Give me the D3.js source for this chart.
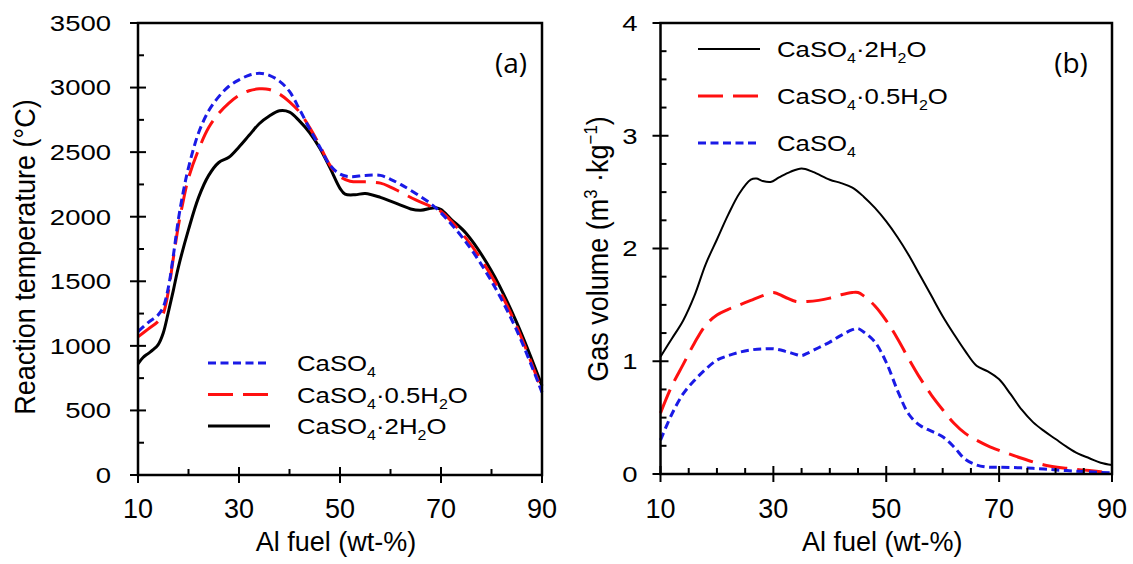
<!DOCTYPE html>
<html>
<head>
<meta charset="utf-8">
<script src="https://cdn.jsdelivr.net/npm/d3@7"></script>
<style>body{margin:0;background:#fff}</style>
</head>
<body>
<svg id="chart" width="1133" height="564"></svg>
<script>
// ---- panel (a): reaction temperature (°C) vs Al fuel (wt-%)
const tempFuelBlue = [10,12,14,15,16,17,18,19,20,22,24,26,28,30,32,34,36,38,40,42,44,46,48,50,52,55,58,60,62,65,68,70,75,80,85,90];
const tempBlue = [1110,1180,1240,1300,1450,1700,1980,2200,2380,2650,2820,2930,3010,3060,3095,3110,3095,3050,2970,2830,2680,2540,2400,2330,2310,2320,2320,2290,2250,2180,2100,2030,1800,1500,1120,640];

const tempFuelRed = [10,12,14,15,16,17,18,19,20,22,24,26,28,30,32,34,36,38,40,42,44,46,48,50,52,55,58,60,62,65,68,70,75,80,85,90];
const tempRed = [1070,1130,1190,1250,1420,1680,1930,2130,2300,2520,2690,2800,2880,2940,2975,2990,2985,2950,2890,2810,2690,2550,2400,2310,2275,2270,2260,2230,2190,2130,2080,2040,1830,1540,1150,650];

const tempFuelBlack = [10,11,12,13,14,15,16,17,18,20,22,24,26,28,30,32,34,36,38,40,42,44,46,48,50,51,53,55,58,60,62,64,66,68,69,70,72,75,80,85,90];
const tempBlack = [860,910,940,970,1010,1100,1260,1430,1610,1900,2150,2320,2420,2460,2540,2630,2720,2780,2820,2810,2740,2650,2530,2380,2220,2175,2170,2180,2150,2120,2090,2060,2050,2065,2070,2055,1980,1870,1580,1180,690];

// ---- panel (b): gas volume (m3/kg) vs Al fuel (wt-%)
const gasFuelBlack = [10,12,14,16,18,20,22,24,26,27,28,29.5,31,33,35,37,40,42,44,46,48,50,52,54,56,58,60,62,64,66,68,70,72,74,76,78,80,82,84,86,88,90];
const gasBlack = [1.04,1.20,1.36,1.58,1.86,2.08,2.30,2.49,2.61,2.62,2.60,2.59,2.63,2.68,2.71,2.68,2.61,2.58,2.54,2.46,2.36,2.24,2.10,1.94,1.76,1.58,1.40,1.24,1.09,0.96,0.91,0.84,0.71,0.57,0.46,0.38,0.31,0.24,0.18,0.14,0.10,0.08];

const gasFuelRed = [10,12,14,16,18,20,22,24,26,28,30,32,34,36,38,40,42,44,45,46,48,50,52,54,56,58,60,62,64,66,68,70,74,78,82,86,90];
const gasRed = [0.54,0.78,0.97,1.16,1.32,1.41,1.46,1.50,1.54,1.58,1.61,1.57,1.53,1.53,1.54,1.56,1.59,1.61,1.61,1.58,1.49,1.36,1.20,1.02,0.85,0.70,0.57,0.45,0.36,0.30,0.25,0.21,0.14,0.08,0.05,0.03,0.01];

const gasFuelBlue = [10,12,14,16,18,20,22,24,26,28,30,32,34,35,36,38,40,42,44,45,46,48,50,52,54,56,58,60,62,64,66,68,70,76,82,90];
const gasBlue = [0.30,0.53,0.71,0.83,0.93,1.01,1.05,1.08,1.10,1.11,1.11,1.09,1.06,1.05,1.07,1.12,1.17,1.23,1.28,1.29,1.26,1.17,0.99,0.74,0.53,0.43,0.38,0.33,0.24,0.13,0.08,0.06,0.06,0.05,0.03,0.01];

const fuelTicks = [10, 30, 50, 70, 90];
const tempTicks = [0, 500, 1000, 1500, 2000, 2500, 3000, 3500];
const gasTicks = [0, 1, 2, 3, 4];

const FONT = '"Liberation Sans", Arial, Helvetica, sans-serif';
const styles = {
  blue: {stroke: '#1a1ae6', dash: '8,4.5', width: 3},
  red: {stroke: '#ff1010', dash: '25,10', width: 3},
  black: {stroke: '#000', dash: null, width: 3}
};

const svg = d3.select('#chart');

// chemical formula pieces: [text, 'sub'|'sup'|undefined]
const labelCaSO4 = [['CaSO'], ['4', 'sub']];
const labelHemi = [['CaSO'], ['4', 'sub'], ['\u00b70.5H'], ['2', 'sub'], ['O']];
const labelDihy = [['CaSO'], ['4', 'sub'], ['\u00b72H'], ['2', 'sub'], ['O']];

function richText(text, parts, size) {
  let shift = 0;
  parts.forEach(([t, kind]) => {
    const target = kind === 'sub' ? size * 0.28 : kind === 'sup' ? -size * 0.38 : 0;
    text.append('tspan')
      .attr('dy', target - shift)
      .attr('font-size', kind ? size * 0.62 : size)
      .text(t);
    shift = target;
  });
}

function panel(cfg) {
  const x = d3.scaleLinear().domain([10, 90]).range([cfg.left, cfg.right]);
  const y = d3.scaleLinear().domain(cfg.yDomain).range([cfg.bottom, cfg.top]);
  const g = svg.append('g');

  // curves
  const line = d3.line()
    .x(d => x(d[0]))
    .y(d => y(d[1]))
    .curve(d3.curveCatmullRom.alpha(0.5));

  cfg.series.forEach(s => {
    const st = styles[s.style];
    g.append('path')
      .datum(d3.zip(s.xs, s.ys))
      .attr('fill', 'none')
      .attr('stroke', st.stroke)
      .attr('stroke-width', s.width || st.width)
      .attr('stroke-dasharray', st.dash)
      .attr('stroke-linejoin', 'round')
      .attr('d', line);
  });

  // frame
  g.append('rect')
    .attr('x', cfg.left).attr('y', cfg.top)
    .attr('width', cfg.right - cfg.left).attr('height', cfg.bottom - cfg.top)
    .attr('fill', 'none').attr('stroke', '#000').attr('stroke-width', 2.5);

  // ticks
  const tk = g.append('g').attr('stroke', '#000').attr('stroke-width', 2);
  cfg.yMajor.forEach(v => tk.append('line')
    .attr('x1', cfg.left - 8).attr('x2', cfg.left + 8).attr('y1', y(v)).attr('y2', y(v)));
  cfg.yMinor.forEach(v => tk.append('line')
    .attr('x1', cfg.left).attr('x2', cfg.left + 6).attr('y1', y(v)).attr('y2', y(v)));
  fuelTicks.forEach(v => tk.append('line')
    .attr('x1', x(v)).attr('x2', x(v)).attr('y1', cfg.bottom - 8).attr('y2', cfg.bottom + 8));
  cfg.xMinor.forEach(v => tk.append('line')
    .attr('x1', x(v)).attr('x2', x(v)).attr('y1', cfg.bottom).attr('y2', cfg.bottom - 6));

  // tick labels
  cfg.yMajor.forEach(v => {
    g.append('g')
      .attr('transform', `translate(${cfg.left - cfg.yLabelGap},${y(v)}) scale(1.25,1)`)
      .append('text')
      .attr('font-family', FONT).attr('font-size', 22)
      .attr('text-anchor', 'end').attr('dy', '0.36em')
      .text(v);
  });
  fuelTicks.forEach(v => {
    g.append('text')
      .attr('x', x(v)).attr('y', 518)
      .attr('font-family', FONT).attr('font-size', 27)
      .attr('text-anchor', 'middle')
      .text(v);
  });

  // axis titles
  g.append('text')
    .attr('x', (cfg.left + cfg.right) / 2 - 4).attr('y', 551)
    .attr('font-family', FONT).attr('font-size', 27)
    .attr('text-anchor', 'middle')
    .text('Al fuel (wt-%)');

  const yt = g.append('g')
    .attr('transform', `translate(${cfg.yTitleX},${cfg.yTitleY}) scale(1.12,1) rotate(-90)`)
    .append('text')
    .attr('font-family', FONT).attr('font-size', 27)
    .attr('text-anchor', 'middle');
  richText(yt, cfg.yTitle, 27);

  // panel tag
  g.append('text')
    .attr('x', cfg.tagX).attr('y', 73)
    .attr('font-family', '"Open Sans", "Noto Sans", sans-serif').attr('font-size', 28)
    .attr('text-anchor', 'middle')
    .text(cfg.tag);

  // legend
  cfg.legend.forEach((s, i) => {
    const st = styles[s.style];
    const ly = cfg.legendY + i * cfg.legendStep;
    g.append('line')
      .attr('x1', cfg.legendX).attr('x2', cfg.legendX + 62)
      .attr('y1', ly).attr('y2', ly)
      .attr('stroke', st.stroke).attr('stroke-width', s.width || st.width)
      .attr('stroke-dasharray', st.dash);
    const t = g.append('g')
      .attr('transform', `translate(${cfg.legendX + cfg.legendTextGap},${ly + 8}) scale(1.12,1)`)
      .append('text')
      .attr('font-family', FONT).attr('font-size', 23);
    richText(t, s.label, 23);
  });
}

panel({
  left: 138, right: 542, top: 23, bottom: 475,
  yDomain: [0, 3500],
  yMajor: tempTicks,
  yMinor: d3.range(250, 3500, 500),
  xMinor: [20, 40, 60, 80],
  yLabelGap: 27,
  series: [
    {xs: tempFuelBlack, ys: tempBlack, style: 'black'},
    {xs: tempFuelRed, ys: tempRed, style: 'red'},
    {xs: tempFuelBlue, ys: tempBlue, style: 'blue'}
  ],
  yTitle: [['Reaction temperature (\u00b0C)']],
  yTitleX: 35, yTitleY: 257,
  tag: '(a)', tagX: 511,
  legendX: 208, legendY: 363, legendStep: 31.5, legendTextGap: 89,
  legend: [
    {style: 'blue', label: labelCaSO4},
    {style: 'red', label: labelHemi},
    {style: 'black', label: labelDihy}
  ]
});

panel({
  left: 660.5, right: 1112, top: 23, bottom: 474,
  yDomain: [0, 4],
  yMajor: gasTicks,
  yMinor: d3.range(0.25, 4, 0.25).filter(v => v % 1 !== 0),
  xMinor: d3.range(15, 90, 5).filter(v => (v - 10) % 20 !== 0),
  yLabelGap: 23,
  series: [
    {xs: gasFuelBlack, ys: gasBlack, style: 'black', width: 2},
    {xs: gasFuelRed, ys: gasRed, style: 'red'},
    {xs: gasFuelBlue, ys: gasBlue, style: 'blue'}
  ],
  yTitle: [['Gas volume (m'], ['3', 'sup'], [' \u00b7kg'], ['\u22121', 'sup'], [')']],
  yTitleX: 608, yTitleY: 249,
  tag: '(b)', tagX: 1071,
  legendX: 698, legendY: 49, legendStep: 47, legendTextGap: 79,
  legend: [
    {style: 'black', label: labelDihy, width: 2},
    {style: 'red', label: labelHemi},
    {style: 'blue', label: labelCaSO4}
  ]
});
</script>
</body>
</html>
